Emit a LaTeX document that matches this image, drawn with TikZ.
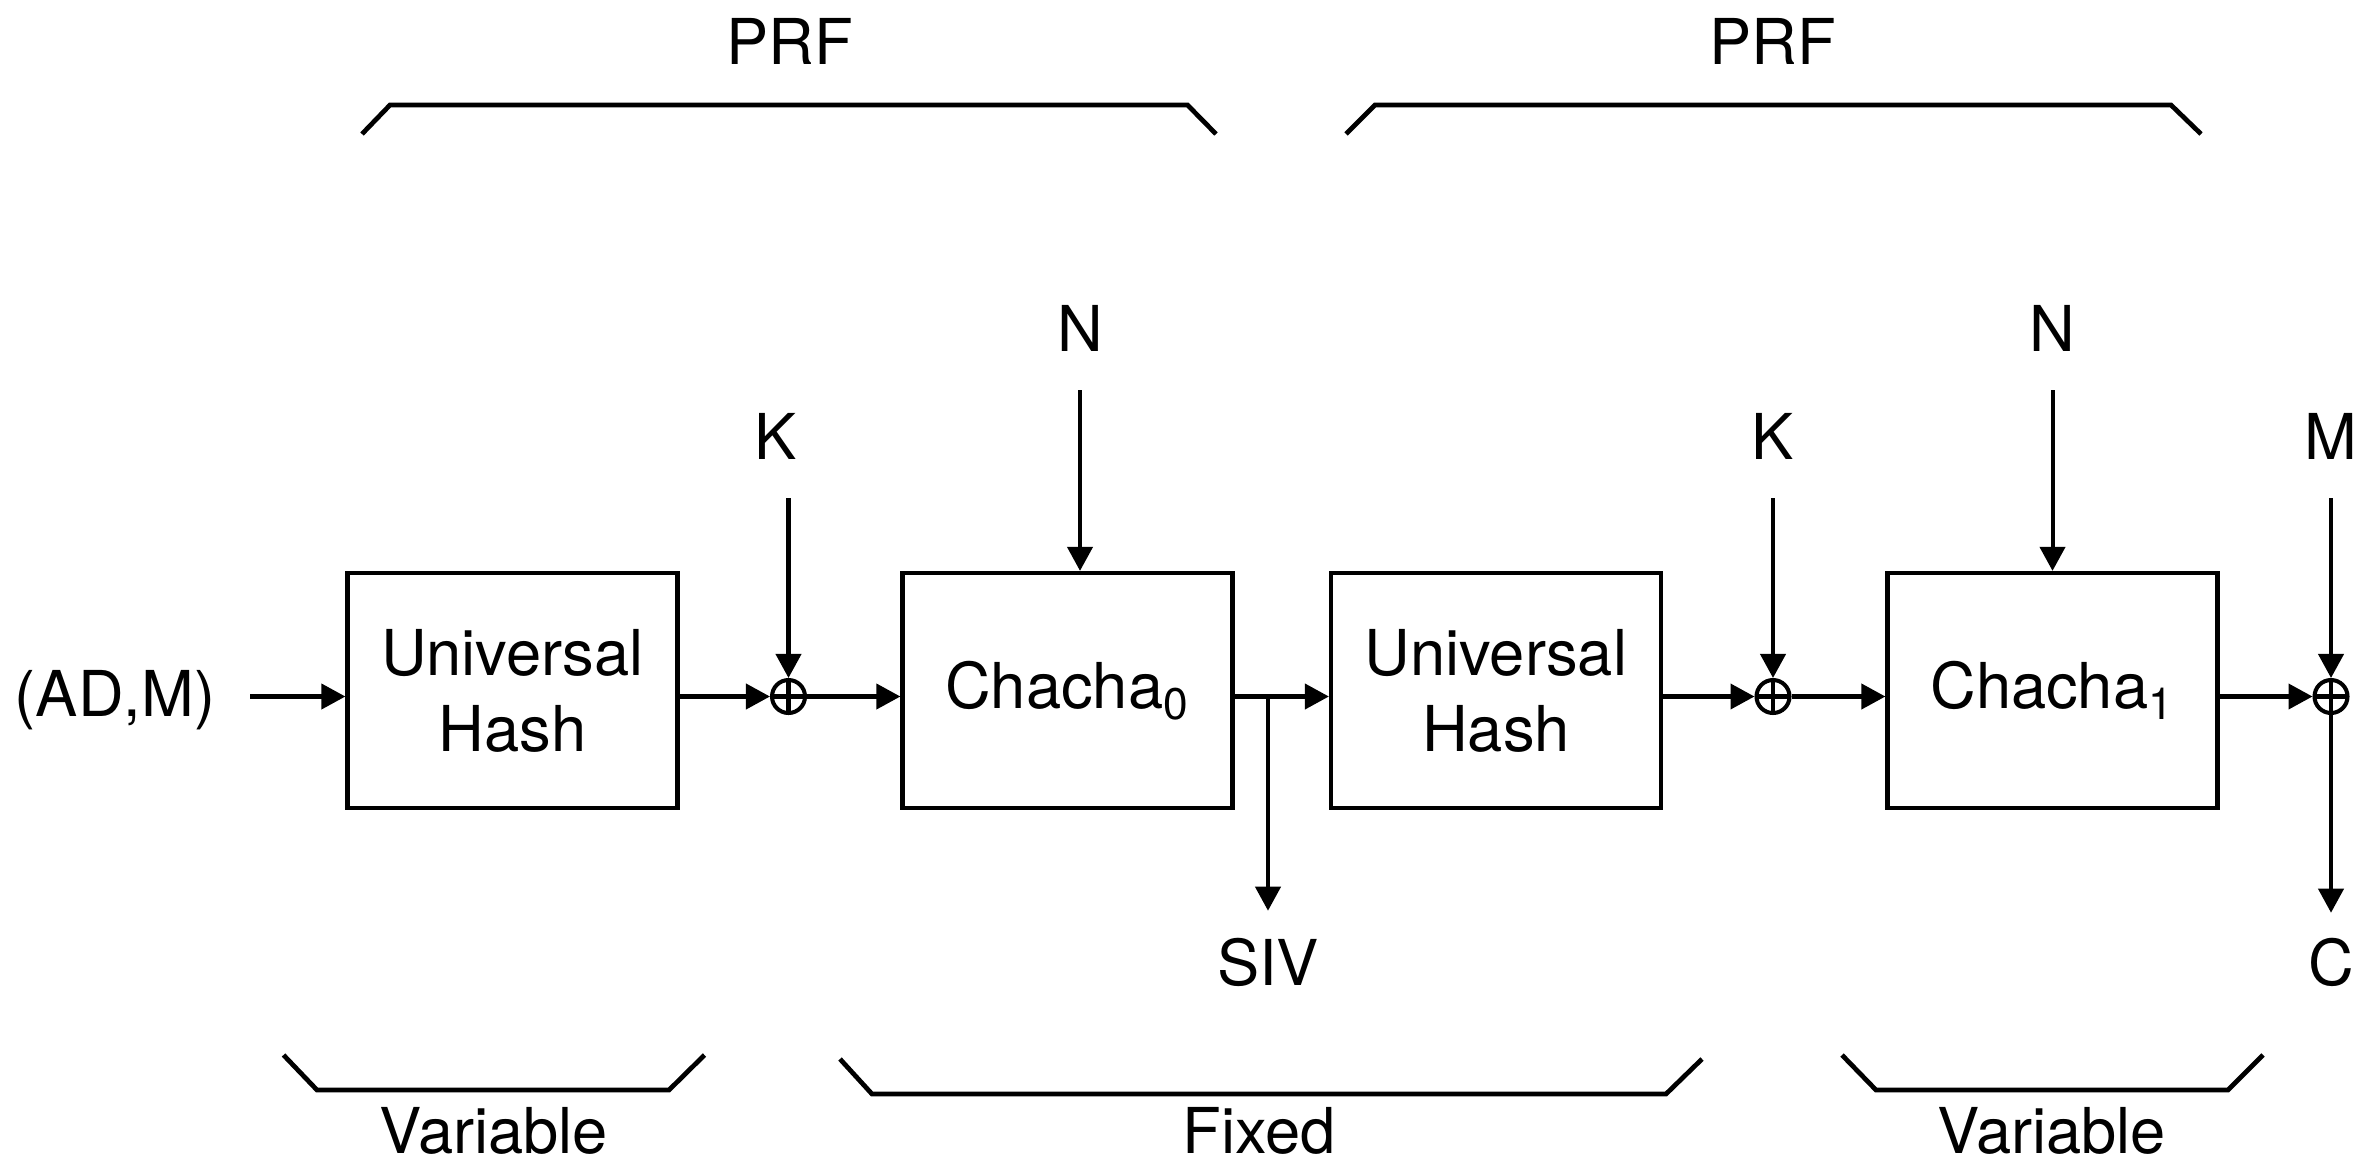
\documentclass[tikz,border=0pt]{standalone}
\usepackage{fontspec}
\setmainfont{TeX Gyre Heros}
\usetikzlibrary{arrows.meta}
\begin{document}
\begin{tikzpicture}[font=\fontsize{18}{21.6}\selectfont, line width=1.15pt,
      >={Triangle[length=2.4mm, width=2.5mm]},
      blk/.style={draw, line width=1.2pt, align=center, minimum width=3.3cm, minimum height=2.35cm, inner sep=0pt},
      xor/.style={draw, circle, inner sep=0pt, minimum size=0.33cm,
        path picture={\draw (path picture bounding box.north) -- (path picture bounding box.south)
                            (path picture bounding box.west) -- (path picture bounding box.east);}},
      lbl/.style={anchor=base, inner sep=0pt},
      feed/.style={->, shorten <=0.37cm},
      brk/.style={line width=1.35pt}]
    \useasboundingbox (0,0) rectangle (23.64,-11.63);
    \node[lbl] (in)  at (1.15,-7.16) {(AD,M)};
    \node[blk] (uh0) at (5.125,-6.905) {Universal\\Hash};
    \node[xor] (x0)  at (7.885,-6.965) {};
    \node[blk] (cc0) at (10.675,-6.905) {Chacha\textsubscript{0}};
    \node[blk] (uh1) at (14.96,-6.905) {Universal\\Hash};
    \node[xor] (x1)  at (17.73,-6.965) {};
    \node[blk] (cc1) at (20.525,-6.905) {Chacha\textsubscript{1}};
    \node[xor] (x2)  at (23.31,-6.965) {};
    \node[lbl] (k0)  at (7.76,-4.59) {K};
    \node[lbl] (n0)  at (10.80,-3.51) {N};
    \node[lbl] (k1)  at (17.73,-4.59) {K};
    \node[lbl] (n1)  at (20.525,-3.51) {N};
    \node[lbl] (m)   at (23.31,-4.59) {M};
    \node[lbl] (siv) at (12.68,-9.85) {SIV};
    \node[lbl] (c)   at (23.31,-9.85) {C};
    \coordinate (br) at (12.68,-6.965);
    \draw[->, shorten <=0.33cm] (in.east |- x0) -- (uh0.west |- x0);
    \draw[->] (uh0.east |- x0) -- (x0);
    \draw[->] (x0) -- (cc0.west |- x0);
    \draw[->] (cc0.east |- x0) -- (uh1.west |- x0);
    \draw[->] (uh1.east |- x1) -- (x1);
    \draw[->] (x1) -- (cc1.west |- x1);
    \draw[->] (cc1.east |- x2) -- (x2);
    \draw[feed] (k0.south -| x0) -- (x0);
    \draw[feed] (n0.south) -- (n0 |- cc0.north);
    \draw[feed] (k1.south) -- (x1);
    \draw[feed] (n1.south) -- (cc1.north);
    \draw[feed] (m.south) -- (x2);
    \draw[->, shorten >=0.25cm] (br) -- (siv.north);
    \draw[->, shorten >=0.23cm] (x2) -- (c.north);
    \node[lbl] (prf0) at (7.90,-0.64) {PRF};
    \node[lbl] (prf1) at (17.73,-0.64) {PRF};
    \node[lbl] (var0) at (4.94,-11.53) {Variable};
    \node[lbl] (fix)  at (12.59,-11.53) {Fixed};
    \node[lbl] (var1) at (20.52,-11.53) {Variable};
    \draw[brk] (3.62,-1.34) -- (3.90,-1.05) -- (11.875,-1.05) -- (12.16,-1.34);
    \draw[brk] (13.46,-1.34) -- (13.75,-1.05) -- (21.71,-1.05) -- (22.01,-1.34);
    \draw[brk] (2.835,-10.55) -- (3.17,-10.90) -- (6.69,-10.90) -- (7.045,-10.55);
    \draw[brk] (8.40,-10.59) -- (8.72,-10.94) -- (16.66,-10.94) -- (17.02,-10.59);
    \draw[brk] (18.42,-10.55) -- (18.76,-10.90) -- (22.28,-10.90) -- (22.63,-10.55);
  \end{tikzpicture}
\end{document}
